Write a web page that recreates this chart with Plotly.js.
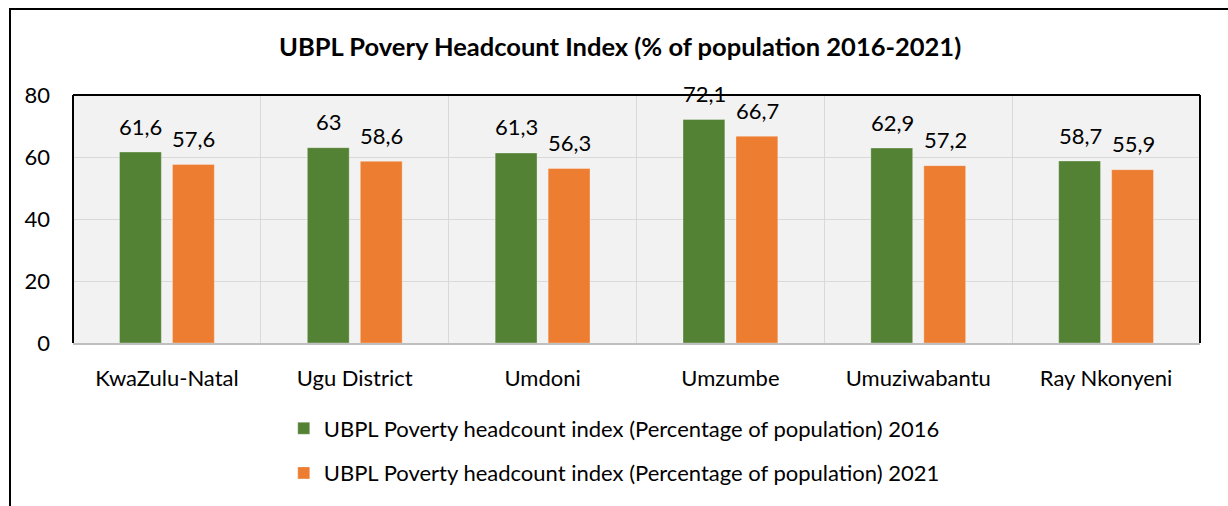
<!DOCTYPE html>
<html>
<head>
<meta charset="utf-8">
<script src="https://cdn.plot.ly/plotly-3.0.1.min.js"></script>
<style>
  html, body { margin:0; padding:0; background:#fff; }
  #frame { position:absolute; left:9px; top:8px; width:1400px; height:700px; border:2px solid #000; box-sizing:border-box; }
  #chart { position:absolute; left:0; top:0; width:1228px; height:506px; }
</style>
</head>
<body>
<div id="frame"></div>
<div id="chart"></div>
<script>
const categories = ["KwaZulu-Natal", "Ugu District", "Umdoni", "Umzumbe", "Umuziwabantu", "Ray Nkonyeni"];
const values2016 = [61.6, 63, 61.3, 72.1, 62.9, 58.7];
const values2021 = [57.6, 58.6, 56.3, 66.7, 57.2, 55.9];
const seriesNames = [
  "UBPL Poverty headcount index (Percentage of population) 2016",
  "UBPL Poverty headcount index (Percentage of population) 2021"
];
const titleText = "UBPL Povery Headcount Index (% of population 2016-2021)";

const FONT = "Lato, 'Open Sans', sans-serif";
const FS = 22;
const fmt = v => String(v).replace('.', ',');

const traces = [
  { type:'bar', name:seriesNames[0], x:categories, y:values2016,
    marker:{color:'#548235', line:{color:'rgba(255,255,255,0.3)', width:1}}, legendgroup:'a', hoverinfo:'y' },
  { type:'bar', name:seriesNames[1], x:categories, y:values2021,
    marker:{color:'#ED7D31', line:{color:'rgba(255,255,255,0.3)', width:1}}, legendgroup:'b', hoverinfo:'y' }
];

const annotations = [];
[values2016, values2021].forEach((vals, s) => {
  vals.forEach((v, i) => {
    annotations.push({
      x: categories[i], y: v, xref:'x', yref:'y',
      text: fmt(v), showarrow:false,
      xshift: s === 0 ? -26 : 27, yshift: 26, yanchor:'middle',
      font:{family:FONT, size:FS, color:'#000'}
    });
  });
});

const shapes = [
  {type:'line', xref:'paper', yref:'paper', x0:0, x1:1, y0:1, y1:1, line:{color:'#000', width:2}},
  {type:'line', xref:'paper', yref:'paper', x0:0, x1:0, y0:0, y1:1, line:{color:'#000', width:2}},
  {type:'line', xref:'paper', yref:'paper', x0:1, x1:1, y0:0, y1:1, line:{color:'#000', width:2}}
];

const layout = {
  width:1228, height:506,
  margin:{l:73, r:28, t:95, b:159},
  paper_bgcolor:'rgba(0,0,0,0)',
  plot_bgcolor:'#f2f2f2',
  font:{family:FONT, size:FS, color:'#000'},
  title:{text:'<b>'+titleText+'</b>', font:{family:FONT, size:25.5, color:'#000'},
         xref:'container', x:0.505, xanchor:'center', yref:'container', y:1-47/506, yanchor:'middle'},
  barmode:'group', bargap:0.436, bargroupgap:0.21,
  xaxis:{type:'category', tickson:'boundaries', showgrid:true, gridcolor:'#d9d9d9', gridwidth:1,
         showline:true, linecolor:'#bfbfbf', linewidth:2, ticks:'', ticklabelstandoff:15,
         tickfont:{family:FONT, size:FS, color:'#000'}},
  yaxis:{range:[0,80], dtick:20, showgrid:true, gridcolor:'#d9d9d9', gridwidth:1, zeroline:false,
         showline:false, ticks:'', ticklabelstandoff:22, tickfont:{family:FONT, size:FS, color:'#000'}},
  showlegend:true,
  legend:{orientation:'v', x:0.187, xanchor:'left', y:-0.26, yanchor:'top', tracegroupgap:13,
          font:{family:FONT, size:FS, color:'#000'}, bgcolor:'rgba(0,0,0,0)'},
  annotations: annotations,
  shapes: shapes
};

Plotly.newPlot('chart', traces, layout, {displayModeBar:false, staticPlot:true});
</script>
</body>
</html>
